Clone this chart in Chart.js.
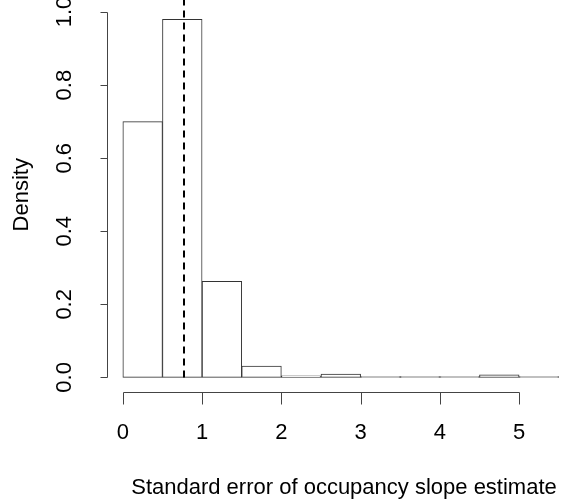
<!DOCTYPE html>
<html>
<head>
<meta charset="utf-8">
<script src="https://cdn.jsdelivr.net/npm/chart.js@4.4.1/dist/chart.umd.min.js"></script>
<style>
  html, body { margin: 0; padding: 0; background: #fff; }
  #wrap { width: 573px; height: 501px; position: relative; }
</style>
</head>
<body>
<div id="wrap"><canvas id="c" width="573" height="501"></canvas></div>
<script>
// Histogram of standard errors (bin width 0.5), density scale
const binStarts = [0, 0.5, 1, 1.5, 2, 2.5, 3, 3.5, 4, 4.5, 5];
const densities = [0.70, 0.98, 0.263, 0.031, 0.004, 0.009, 0.002, 0.002, 0.002, 0.007, 0.002];
const xTicks = [0, 1, 2, 3, 4, 5];
const yTicks = [0.0, 0.2, 0.4, 0.6, 0.8, 1.0];
const yTickLabels = ['0.0', '0.2', '0.4', '0.6', '0.8', '1.0'];
const meanSE = 0.77;
const binWidth = 0.5;

const FONT = '22px "Liberation Sans", Arial, sans-serif';

const barData = binStarts.map((s, i) => ({ x: s + binWidth / 2, y: densities[i] }));

// R-style detached axes, labels and the reference line
const rAxes = {
  id: 'rAxes',
  afterDatasetsDraw(chart) {
    const ctx = chart.ctx;
    const xs = chart.scales.x, ys = chart.scales.y;
    ctx.save();
    // dashed vertical line at the mean
    const mx = Math.round(xs.getPixelForValue(meanSE));
    ctx.strokeStyle = '#000';
    ctx.lineWidth = 2;
    ctx.setLineDash([7, 5]);
    ctx.beginPath();
    ctx.moveTo(mx, ys.getPixelForValue(0));
    ctx.lineTo(mx, 0);
    ctx.stroke();
    ctx.setLineDash([]);

    ctx.strokeStyle = '#444';
    ctx.lineWidth = 1;
    // y axis
    const ax = Math.round(xs.getPixelForValue(-0.2)) + 0.5;
    ctx.beginPath();
    ctx.moveTo(ax, Math.round(ys.getPixelForValue(yTicks[0])) + 0.5);
    ctx.lineTo(ax, Math.round(ys.getPixelForValue(yTicks[yTicks.length - 1])) + 0.5);
    yTicks.forEach(v => {
      const py = Math.round(ys.getPixelForValue(v)) + 0.5;
      ctx.moveTo(ax, py);
      ctx.lineTo(ax - 7, py);
    });
    ctx.stroke();
    // x axis
    const ay = Math.round(ys.getPixelForValue(-0.04)) + 0.5;
    ctx.beginPath();
    ctx.moveTo(Math.round(xs.getPixelForValue(xTicks[0])) + 0.5, ay);
    ctx.lineTo(Math.round(xs.getPixelForValue(xTicks[xTicks.length - 1])) + 0.5, ay);
    xTicks.forEach(v => {
      const px = Math.round(xs.getPixelForValue(v)) + 0.5;
      ctx.moveTo(px, ay);
      ctx.lineTo(px, ay + 12);
    });
    ctx.stroke();

    ctx.fillStyle = '#000';
    ctx.font = FONT;
    ctx.textAlign = 'center';
    ctx.textBaseline = 'middle';
    xTicks.forEach(v => {
      ctx.fillText(String(v), xs.getPixelForValue(v), 433);
    });
    yTicks.forEach((v, i) => {
      ctx.save();
      ctx.translate(65, ys.getPixelForValue(v));
      ctx.rotate(-Math.PI / 2);
      ctx.fillText(yTickLabels[i], 0, 0);
      ctx.restore();
    });
    // axis titles
    ctx.textBaseline = 'alphabetic';
    ctx.fillText('Standard error of occupancy slope estimate', 344, 494);
    ctx.save();
    ctx.translate(28, ys.getPixelForValue(0.5));
    ctx.rotate(-Math.PI / 2);
    ctx.fillText('Density', 0, 0);
    ctx.restore();
    ctx.restore();
  }
};

new Chart(document.getElementById('c'), {
  type: 'bar',
  data: {
    datasets: [{
      data: barData,
      backgroundColor: '#ffffff',
      borderColor: '#333333',
      borderWidth: 1,
      borderSkipped: false,
      barPercentage: 1,
      categoryPercentage: 1,
      grouped: false
    }]
  },
  options: {
    responsive: false,
    animation: false,
    events: [],
    layout: { padding: { left: 107, right: 0, top: 0, bottom: 109 } },
    plugins: { legend: { display: false }, tooltip: { enabled: false } },
    scales: {
      x: { type: 'linear', min: -0.2, max: 5.68, offset: false, display: false },
      y: { type: 'linear', min: -0.04, max: 1.033, display: false }
    }
  },
  plugins: [rAxes]
});
</script>
</body>
</html>
